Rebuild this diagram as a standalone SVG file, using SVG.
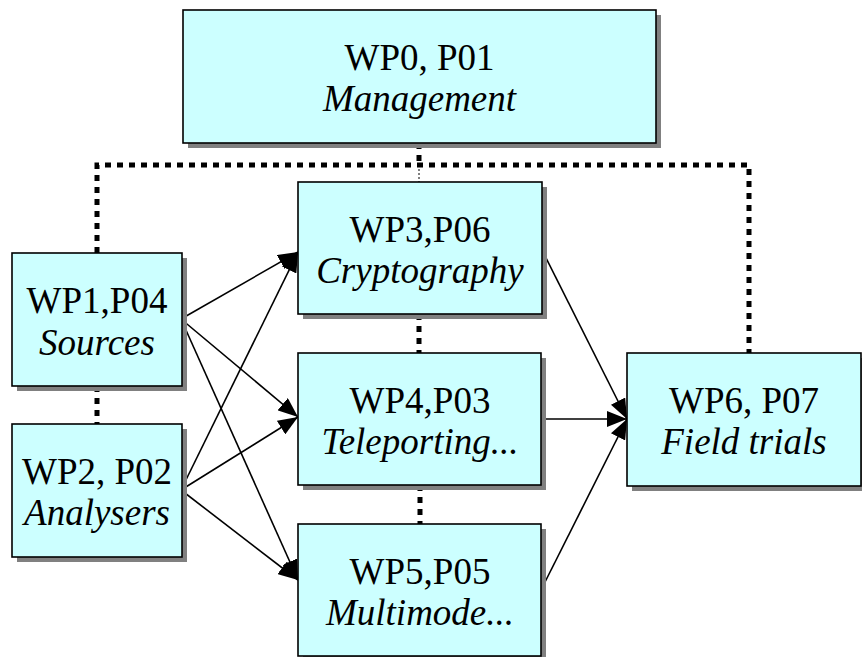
<svg xmlns="http://www.w3.org/2000/svg" width="862" height="657" viewBox="0 0 862 657">
<style>
.box{fill:#CCFFFF;stroke:#000;stroke-width:1.6}
.sh{fill:#808080}
.t{font-family:'Liberation Serif','Times New Roman',Times,Tinos,'Nimbus Roman','Nimbus Roman No9 L',FreeSerif,'Noto Serif','DejaVu Serif',serif;font-size:37px;text-anchor:middle;fill:#000}
.i{font-style:italic}
.dot{fill:none;stroke:#000;stroke-width:5;stroke-dasharray:6 6}
.arr{fill:none;stroke:#000;stroke-width:1.6;marker-end:url(#ah)}
</style>
<defs>
<marker id="ah" markerUnits="userSpaceOnUse" markerWidth="22" markerHeight="16" refX="20" refY="8" orient="auto">
<path d="M0,0 L20,8 L0,16 Z" fill="#000"/>
</marker>
</defs>
<rect width="862" height="657" fill="#fff"/>
<g id="connectors">
<path class="dot" d="M97,253 V165 H749 V353"/>
<line class="dot" x1="419" y1="143" x2="419" y2="165"/>
<line x1="419" y1="165" x2="419" y2="182" stroke="#000" stroke-width="1" stroke-dasharray="2 2"/>
<line class="dot" x1="97" y1="386" x2="97" y2="424"/>
<line class="dot" x1="419" y1="314" x2="419" y2="353"/>
<line class="dot" x1="420" y1="485" x2="420" y2="524"/>
<line class="arr" x1="181" y1="319" x2="298" y2="252"/>
<line class="arr" x1="181" y1="319" x2="298" y2="417"/>
<line class="arr" x1="181" y1="319" x2="298" y2="580"/>
<line class="arr" x1="181" y1="490" x2="298" y2="252"/>
<line class="arr" x1="181" y1="490" x2="298" y2="417"/>
<line class="arr" x1="181" y1="490" x2="298" y2="580"/>
<line class="arr" x1="541" y1="248" x2="627" y2="419"/>
<line class="arr" x1="541" y1="419" x2="627" y2="419"/>
<line class="arr" x1="541" y1="590" x2="627" y2="419"/>
</g>
<g id="wp0">
<rect class="sh" x="188" y="15" width="473" height="133"/>
<rect class="box" x="183" y="10" width="473" height="133"/>
<text class="t" x="419.5" y="70">WP0, P01</text>
<text class="t i" x="419.5" y="111">Management</text>
</g>
<g id="wp1">
<rect class="sh" x="17" y="258" width="170" height="133"/>
<rect class="box" x="12" y="253" width="170" height="133"/>
<text class="t" x="97" y="313">WP1,P04</text>
<text class="t i" x="97" y="355">Sources</text>
</g>
<g id="wp2">
<rect class="sh" x="17" y="429" width="170" height="133"/>
<rect class="box" x="12" y="424" width="170" height="133"/>
<text class="t" x="97" y="484">WP2, P02</text>
<text class="t i" x="97" y="525">Analysers</text>
</g>
<g id="wp3">
<rect class="sh" x="303" y="187" width="244" height="132"/>
<rect class="box" x="298" y="182" width="244" height="132"/>
<text class="t" x="420" y="242">WP3,P06</text>
<text class="t i" x="420" y="283">Cryptography</text>
</g>
<g id="wp4">
<rect class="sh" x="303" y="358" width="243" height="132"/>
<rect class="box" x="298" y="353" width="243" height="132"/>
<text class="t" x="420" y="413">WP4,P03</text>
<text class="t i" x="420" y="454">Teleporting...</text>
</g>
<g id="wp5">
<rect class="sh" x="303" y="529" width="243" height="132"/>
<rect class="box" x="298" y="524" width="243" height="132"/>
<text class="t" x="420" y="584">WP5,P05</text>
<text class="t i" x="420" y="625">Multimode...</text>
</g>
<g id="wp6">
<rect class="sh" x="632" y="358" width="234" height="133"/>
<rect class="box" x="627" y="353" width="234" height="133"/>
<text class="t" x="744" y="413">WP6, P07</text>
<text class="t i" x="744" y="454">Field trials</text>
</g>
</svg>
